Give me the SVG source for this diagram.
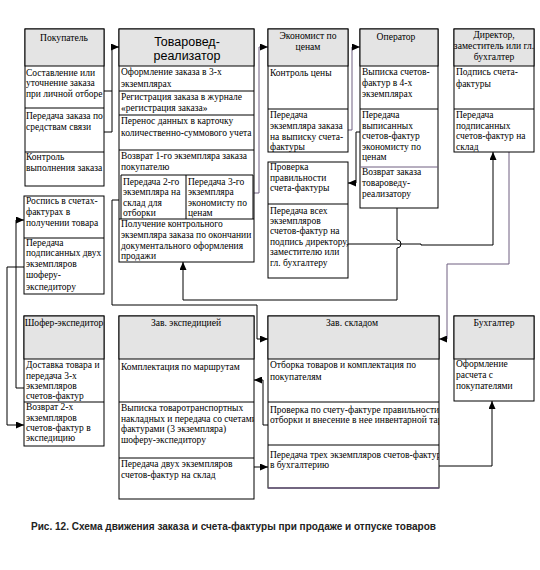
<svg xmlns="http://www.w3.org/2000/svg" width="540" height="570" viewBox="0 0 540 570">
<style>
.box{fill:#fff;stroke:#000;stroke-width:1}
.hdr{fill:#e4e4e4;stroke:#000;stroke-width:1}
.sep{stroke:#000;stroke-width:1;fill:none}
.t{font-family:"Liberation Serif","Times New Roman",serif;font-size:9.5px;fill:#000}
.h{font-family:"Liberation Serif","Times New Roman",serif;font-size:9.6px;fill:#000;text-anchor:middle}
.ln{fill:none;stroke:#000;stroke-width:1}
.lp{fill:none;stroke:#6e5e80;stroke-width:1}
.cap{font-family:"Liberation Sans",Arial,sans-serif;font-size:10.5px;font-weight:bold;fill:#222}
.big{font-family:"Liberation Sans",Arial,sans-serif;font-size:12.5px;text-anchor:middle;fill:#000}
</style>
<defs>
<marker id="ah" markerUnits="userSpaceOnUse" markerWidth="8" markerHeight="7" refX="8" refY="3.5" orient="auto">
<path d="M0,0 L8,3.5 L0,7 z" fill="#000"/>
</marker>
<clipPath id="cp1"><rect x="25" y="29" width="79" height="157"/></clipPath>
<clipPath id="cp2"><rect x="119" y="29" width="135" height="233"/></clipPath>
<clipPath id="cp3"><rect x="119" y="316" width="135" height="183"/></clipPath>
<clipPath id="cp4"><rect x="268" y="316" width="171" height="172"/></clipPath>
<clipPath id="cp5"><rect x="268" y="162" width="81" height="116"/></clipPath>
</defs>

<g id="connectors">
<path class="ln" d="M104,91 H112 M104,132 H112 V47 H119" marker-end="url(#ah)"/>
<path class="lp" d="M254,193 H259 V47 H268" marker-end="url(#ah)"/>
<path class="lp" d="M348,130 H352 V47 H360" marker-end="url(#ah)"/>
<path class="ln" d="M360,132 H356 V183 H348" marker-end="url(#ah)"/>
<path class="ln" d="M397,208 V240 A4,4 0 0 1 397,248 V300 H183 V262" marker-end="url(#ah)"/>
<path class="ln" d="M348,244 H421 V245 H493 V152" marker-end="url(#ah)"/>
<path class="lp" d="M509,152 V264 H447 V339 H439" marker-end="url(#ah)"/>
<path class="ln" d="M119,200 H112 V305 H257 V339 H268" marker-end="url(#ah)"/>
<path class="ln" d="M24,388 H16 V220 H24" marker-end="url(#ah)"/>
<path class="ln" d="M24,267 H7 V425 H24" marker-end="url(#ah)"/>
<path class="ln" d="M268,425 H263 V380 H254" marker-end="url(#ah)"/>
<path class="ln" d="M254,467 H268" marker-end="url(#ah)"/>
<path class="ln" d="M439,466 H492 V401" marker-end="url(#ah)"/>
</g>

<g id="pokupatel">
<rect class="box" x="25" y="29" width="79" height="157"/>
<rect class="hdr" x="25" y="29" width="79" height="37"/>
<path class="sep" d="M25,108 H104 M25,152 H104"/>
<text class="h" x="64" y="41">Покупатель</text>
<g clip-path="url(#cp1)">
<text class="t" x="26" y="75.5">Составление или</text>
<text class="t" x="26" y="86">уточнение заказа</text>
<text class="t" x="26" y="97">при личной отборе</text>
<text class="t" x="26" y="118.5">Передача заказа по</text>
<text class="t" x="26" y="129.5">средствам связи</text>
<text class="t" x="26" y="160">Контроль</text>
<text class="t" x="26" y="171">выполнения заказа</text>
</g>
</g>

<g id="tovaroved">
<rect class="box" x="119" y="29" width="135" height="233"/>
<rect class="hdr" x="119" y="29" width="135" height="37"/>
<path class="sep" d="M119,91 H254 M119,115 H254 M119,150 H254 M121,175 H253 M186,175 V219 M121,175 V219 M253,175 V219 M119,219 H254"/>
<text class="big" x="187" y="45.5">Товаровед-</text>
<text class="big" x="187" y="60">реализатор</text>
<g clip-path="url(#cp2)">
<text class="t" x="121" y="75">Оформление заказа в 3-х</text>
<text class="t" x="121" y="87">экземплярах</text>
<text class="t" x="121" y="99.5">Регистрация заказа в журнале</text>
<text class="t" x="121" y="111">«регистрация заказа»</text>
<text class="t" x="121" y="124">Перенос данных в карточку</text>
<text class="t" x="121" y="136">количественно-суммового учета</text>
<text class="t" x="121" y="159">Возврат 1-го экземпляра заказа</text>
<text class="t" x="121" y="170">покупателю</text>
<text class="t" x="123" y="185">Передача 2-го</text>
<text class="t" x="123" y="195">экземпляра на</text>
<text class="t" x="123" y="206">склад для</text>
<text class="t" x="123" y="216">отборки</text>
<text class="t" x="188" y="185">Передача 3-го</text>
<text class="t" x="188" y="195">экземпляра</text>
<text class="t" x="188" y="206">экономисту по</text>
<text class="t" x="188" y="216">ценам</text>
<text class="t" x="121" y="227">Получение контрольного</text>
<text class="t" x="121" y="238">экземпляра заказа по окончании</text>
<text class="t" x="121" y="248.5">документального оформления</text>
<text class="t" x="121" y="258.5">продажи</text>
</g>
</g>

<g id="ekonomist">
<rect class="box" x="268" y="29" width="80" height="123"/>
<rect class="hdr" x="268" y="29" width="80" height="37"/>
<path class="sep" d="M268,109 H348"/>
<text class="h" x="308" y="38.5">Экономист по</text>
<text class="h" x="308" y="50">ценам</text>
<text class="t" x="270" y="76">Контроль цены</text>
<text class="t" x="270" y="118">Передача</text>
<text class="t" x="270" y="129">экземпляра заказа</text>
<text class="t" x="270" y="139.5">на выписку счета-</text>
<text class="t" x="270" y="150">фактуры</text>
</g>

<g id="ekonomist-2">
<rect class="box" x="268" y="162" width="80" height="116"/>
<path class="sep" d="M268,204 H348"/>
<g clip-path="url(#cp5)">
<text class="t" x="270" y="170">Проверка</text>
<text class="t" x="270" y="181">правильности</text>
<text class="t" x="270" y="191">счета-фактуры</text>
<text class="t" x="270" y="213.5">Передача всех</text>
<text class="t" x="270" y="223.5">экземпляров</text>
<text class="t" x="270" y="234">счетов-фактур на</text>
<text class="t" x="270" y="244.5">подпись директору,</text>
<text class="t" x="270" y="254.5">заместителю или</text>
<text class="t" x="270" y="266">гл. бухгалтеру</text>
</g>
</g>

<g id="operator">
<rect class="box" x="360" y="29" width="78" height="179"/>
<rect class="hdr" x="360" y="29" width="78" height="37"/>
<path class="sep" d="M360,109 H438"/>
<path d="M360,167 H438" stroke="#6e5e80" stroke-width="1"/>
<text class="h" x="396" y="40">Оператор</text>
<text class="t" x="362" y="75">Выписка счетов-</text>
<text class="t" x="362" y="86">фактур в 4-х</text>
<text class="t" x="362" y="97">экземплярах</text>
<text class="t" x="362" y="118">Передача</text>
<text class="t" x="362" y="128.5">выписанных</text>
<text class="t" x="362" y="139">счетов-фактур</text>
<text class="t" x="362" y="149.5">экономисту по</text>
<text class="t" x="362" y="160">ценам</text>
<text class="t" x="362" y="175">Возврат заказа</text>
<text class="t" x="362" y="186">товароведу-</text>
<text class="t" x="362" y="197">реализатору</text>
</g>

<g id="direktor">
<rect class="box" x="454" y="29" width="80" height="123"/>
<rect class="hdr" x="454" y="29" width="80" height="37"/>
<path class="sep" d="M454,109 H534"/>
<text class="h" x="494" y="38">Директор,</text>
<text class="h" x="494" y="48.5">заместитель или гл.</text>
<text class="h" x="494" y="59.5">бухгалтер</text>
<text class="t" x="456" y="75">Подпись счета-</text>
<text class="t" x="456" y="87">фактуры</text>
<text class="t" x="456" y="118">Передача</text>
<text class="t" x="456" y="129">подписанных</text>
<text class="t" x="456" y="139">счетов-фактур на</text>
<text class="t" x="456" y="149.5">склад</text>
</g>

<g id="pokupatel-2">
<rect class="box" x="24" y="196" width="80" height="98"/>
<path class="sep" d="M24,238 H104"/>
<text class="t" x="26" y="204">Роспись в счетах-</text>
<text class="t" x="26" y="215">фактурах в</text>
<text class="t" x="26" y="226">получении товара</text>
<text class="t" x="26" y="246">Передача</text>
<text class="t" x="26" y="256">подписанных двух</text>
<text class="t" x="26" y="267">экземпляров</text>
<text class="t" x="26" y="278">шоферу-</text>
<text class="t" x="26" y="289.5">экспедитору</text>
</g>

<g id="shofer">
<rect class="box" x="24" y="316" width="80" height="130"/>
<rect class="hdr" x="24" y="316" width="80" height="43"/>
<path class="sep" d="M24,402 H104"/>
<text class="h" x="64" y="326">Шофер-экспедитор</text>
<text class="t" x="26" y="367.5">Доставка товара и</text>
<text class="t" x="26" y="378.5">передача 3-х</text>
<text class="t" x="26" y="388.5">экземпляров</text>
<text class="t" x="26" y="399">счетов-фактур</text>
<text class="t" x="26" y="410">Возврат 2-х</text>
<text class="t" x="26" y="421">экземпляров</text>
<text class="t" x="26" y="431">счетов-фактур в</text>
<text class="t" x="26" y="441">экспедицию</text>
</g>

<g id="ekspediciya">
<rect class="box" x="119" y="316" width="135" height="183"/>
<rect class="hdr" x="119" y="316" width="135" height="43"/>
<path class="sep" d="M119,402 H254 M119,458 H254"/>
<text class="h" x="186" y="326">Зав. экспедицией</text>
<g clip-path="url(#cp3)">
<text class="t" x="121" y="369.5">Комплектация по маршрутам</text>
<text class="t" x="121" y="411">Выписка товаротранспортных</text>
<text class="t" x="121" y="422">накладных и передача со счетами-</text>
<text class="t" x="121" y="432">фактурами (3 экземпляра)</text>
<text class="t" x="121" y="443">шоферу-экспедитору</text>
<text class="t" x="121" y="467">Передача двух экземпляров</text>
<text class="t" x="121" y="477.5">счетов-фактур на склад</text>
</g>
</g>

<g id="sklad">
<rect class="box" x="268" y="316" width="171" height="172"/>
<rect class="hdr" x="268" y="316" width="171" height="43"/>
<path class="sep" d="M268,402 H439 M268,445 H439"/>
<path d="M268,488 H439" stroke="#6e5e80" stroke-width="1.5"/>
<text class="h" x="352" y="326">Зав. складом</text>
<g clip-path="url(#cp4)">
<text class="t" x="270" y="367.5">Отборка товаров и комплектация по</text>
<text class="t" x="270" y="379.5">покупателям</text>
<text class="t" x="270" y="413">Проверка по счету-фактуре правильности</text>
<text class="t" x="270" y="422.5">отборки и внесение в нее инвентарной тары</text>
<text class="t" x="270" y="457.5">Передача трех  экземпляров счетов-фактур</text>
<text class="t" x="270" y="467.5">в  бухгалтерию</text>
</g>
</g>

<g id="buhgalter">
<rect class="box" x="454" y="316" width="80" height="85"/>
<rect class="hdr" x="454" y="316" width="80" height="43"/>
<text class="h" x="494" y="326">Бухгалтер</text>
<text class="t" x="456" y="367">Оформление</text>
<text class="t" x="456" y="377.5">расчета с</text>
<text class="t" x="456" y="389">покупателями</text>
</g>

<text class="cap" x="31" y="530" textLength="405" lengthAdjust="spacingAndGlyphs">Рис. 12. Схема движения заказа и счета-фактуры при продаже и отпуске товаров</text>
</svg>
